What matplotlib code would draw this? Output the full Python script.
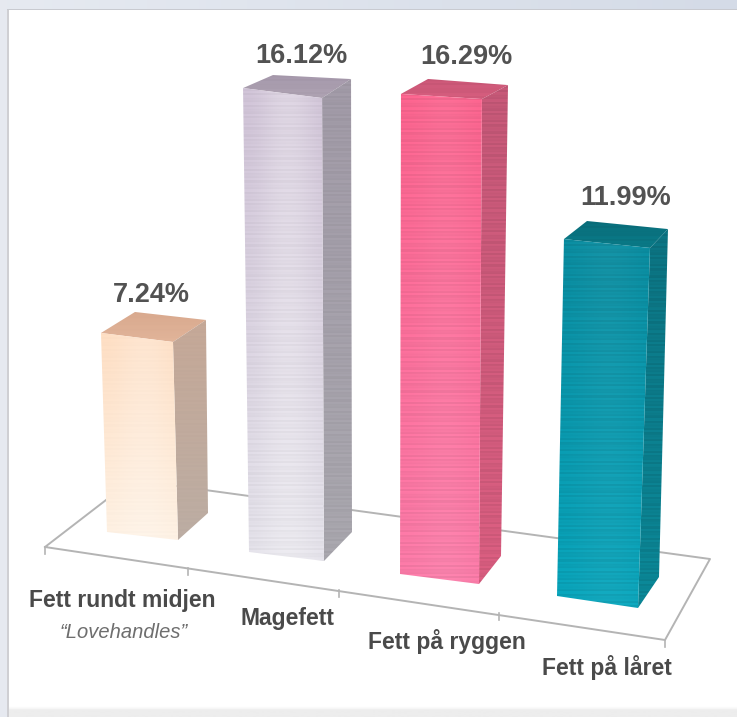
import numpy as np
import matplotlib
matplotlib.use("Agg")
import matplotlib.pyplot as plt
from matplotlib.patches import Polygon, Rectangle

# ---- data ----
categories = ["Fett rundt midjen", "Magefett", "Fett på ryggen", "Fett på låret"]
subtitle = "\u201cLovehandles\u201d"
values = [7.24, 16.12, 16.29, 11.99]
value_labels = ["7.24%", "16.12%", "16.29%", "11.99%"]

# ---- layout (pixel projection of the pseudo-3D scene) ----
W, H = 737, 717
# base corners per bar: front-left, front-right, back-right, back-left
base = np.array([
    [[107, 532], [178, 540], [208, 513], [137, 505]],
    [[249, 552], [324, 561], [352, 532], [277, 523]],
    [[400, 574], [479, 584], [501, 556], [422, 546]],
    [[557, 596], [638, 608], [659, 577], [578, 565]],
], float)
# pixels moved by each corner per one percentage point (perspective)
rise = np.array([
    [[-.83, -27.49], [-.69, -27.35], [-.28, -26.66], [-.28, -26.66]],
    [[-.37, -28.78], [-.12, -28.72], [-.06, -28.10], [-.25, -27.79]],
    [[.06, -29.47], [.18, -29.77], [.43, -28.91], [.37, -28.67]],
    [[.58, -29.77], [1.0, -30.03], [.75, -29.02], [.75, -28.69]],
], float)

# colours: (start at top, end at bottom) per face
front_cols = [("#FFDFC4", "#FFF2E4"), ("#D2C5D9", "#E6E4EC"), ("#FF6590", "#FF7DAB"), ("#0A8FA3", "#09A8BF")]
front_light = [0.2, 0.3, 0.06, 0.04]
side_cols = [("#C6A998", "#BDAEA4"), ("#A39CA9", "#ABA9B0"), ("#C95A7A", "#DD5F82"), ("#0C7685", "#0B8A9A")]
top_cols = [("#D9A98E", "#E2B59A"), ("#A699AC", "#AFA3B3"), ("#CC5878", "#D75E7F"), ("#0A6F7C", "#0A7C8A")]
stripe_amp = [0.005, 0.018, 0.03, 0.035]

floor_col = "#B4B4B4"
floor_corners = [(45, 547), (132, 480), (710, 559), (665, 640)]
tick_x = [(45, 547), (188, 568), (339, 590), (499, 613), (665, 640)]
value_pos = [(151, 295), (301, 56), (466, 57), (626, 198)]
label_pos = [(122, 601), (288, 618), (447, 642), (607, 668)]


def rgb(c):
    return np.array(matplotlib.colors.to_rgb(c))


def face(ax, poly, cols, stripes=0.0, light=0.0, z=3):
    """Draw a polygon filled with a vertical gradient, optional streaks."""
    poly = np.asarray(poly)
    x0, y0 = poly.min(axis=0)
    x1, y1 = poly.max(axis=0)
    rows = max(int(y1 - y0), 2)
    t = np.linspace(0, 1, rows)[:, None, None]
    img = (1 - t) * rgb(cols[0])[None, None, :] + t * rgb(cols[1])[None, None, :]
    img = np.repeat(img, 40, axis=1)
    u = np.linspace(0, 1, 40)[None, :, None]
    if light:
        img = img + (1 - img) * light * np.sin(u * np.pi * 0.9) ** 2
    if stripes:
        yy = np.arange(rows)[:, None, None]
        img = img * (1 - stripes * (1 + np.sign(np.sin(yy * 1.37)) * np.sin(yy * 0.29)))
    im = ax.imshow(np.clip(img, 0, 1), extent=(x0, x1, y1, y0), aspect="auto",
                   zorder=z, interpolation="nearest")
    clip = Polygon(poly, closed=True, transform=ax.transData)
    im.set_clip_path(clip)


fig = plt.figure(figsize=(W / 100, H / 100), dpi=100, facecolor="white")
ax = fig.add_axes([0, 0, 1, 1])
ax.axis("off")

# window frame
grad_top = np.linspace(0, 1, 200)[None, :, None]
top_band = (1 - grad_top) * rgb("#E6EAF1") + grad_top * rgb("#D4DBE7")
ax.imshow(top_band, extent=(0, W, 9, 0), aspect="auto", zorder=1)
ax.add_patch(Rectangle((0, 0), 7, H, color="#E6E9F0", lw=0, zorder=1))
ax.add_patch(Rectangle((7, 9), 2, H, color="#CFCFD3", lw=0, zorder=1))
ax.add_patch(Rectangle((7, 9), W, 1, color="#C8CAD0", lw=0, zorder=1))
bot = np.linspace(0, 1, 20)[:, None, None]
ax.imshow(np.where(bot < 0.3, (1 - bot) * rgb("#FFFFFF") + bot * rgb("#D8D8D8"), rgb("#EDEDED")),
          extent=(9, W, H, 706), aspect="auto", zorder=1)

# floor
fx, fy = zip(*(floor_corners + floor_corners[:1]))
ax.plot(fx, fy, color=floor_col, lw=1.4, zorder=2, solid_joinstyle="round")
for tx, ty in tick_x:
    ax.plot([tx, tx], [ty, ty + 7], color=floor_col, lw=1.2, zorder=2)

# bars
for i, v in enumerate(values):
    b = base[i]
    t = b + rise[i] * v
    face(ax, [t[0], t[1], t[2], t[3]], top_cols[i], stripe_amp[i] * 0.6, z=3)
    face(ax, [t[1], t[2], b[2], b[1]], side_cols[i], stripe_amp[i] * 1.2, z=3)
    face(ax, [t[0], t[1], b[1], b[0]], front_cols[i], stripe_amp[i], front_light[i], z=3)

# text
font = ["Liberation Sans", "DejaVu Sans"]
for (x, y), s in zip(value_pos, value_labels):
    ax.text(x, y, s, ha="center", va="center", fontsize=19.5, fontweight="bold",
            color="#525252", family=font, zorder=5)
for (x, y), s in zip(label_pos, categories):
    ax.text(x, y, s, ha="center", va="center", fontsize=16.5, fontweight="bold",
            color="#4A4A4A", family=font, zorder=5)
ax.text(124, 632, subtitle, ha="center", va="center", fontsize=14.5, style="italic",
        color="#6E6E6E", family=font, zorder=5)

ax.set_xlim(0, W)
ax.set_ylim(H, 0)
fig.savefig("out.png", dpi=100)
